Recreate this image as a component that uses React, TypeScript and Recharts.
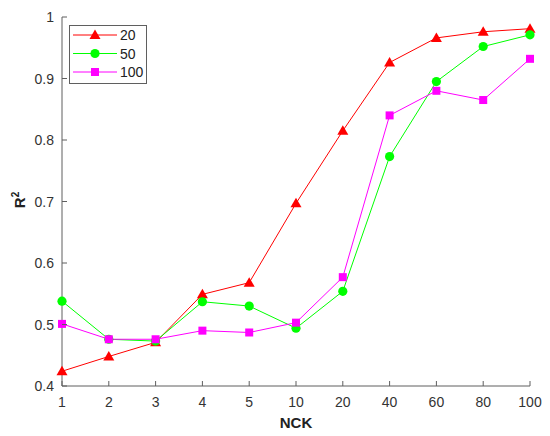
import { LineChart, Line, XAxis, YAxis } from "recharts";

// NCK settings on the x axis (evenly spaced categories)
const nck = ["1", "2", "3", "4", "5", "10", "20", "40", "60", "80", "100"];

// R^2 for each group size
const r2For20 = [0.424, 0.448, 0.471, 0.549, 0.568, 0.697, 0.815, 0.926, 0.966, 0.976, 0.981];
const r2For50 = [0.538, 0.476, 0.473, 0.537, 0.53, 0.494, 0.554, 0.773, 0.895, 0.952, 0.971];
const r2For100 = [0.501, 0.476, 0.476, 0.49, 0.487, 0.503, 0.577, 0.84, 0.88, 0.865, 0.932];

const yTicks = [0.4, 0.5, 0.6, 0.7, 0.8, 0.9, 1];

const seriesNames = ["20", "50", "100"];
const seriesColors = ["#FF0000", "#00FF00", "#FF00FF"];

const data = nck.map((k, i) => ({
  nck: k,
  s20: r2For20[i],
  s50: r2For50[i],
  s100: r2For100[i],
}));

const AXIS = "#5f5f5f";
const TEXT = "#333333";
const FONT = "Arial, 'Liberation Sans', sans-serif";
const TICK_LEN = 5;

// MATLAB-style markers
const Triangle = ({ cx, cy, color }: any) => (
  <polygon
    points={`${cx},${cy - 5.5} ${cx - 5.5},${cy + 4} ${cx + 5.5},${cy + 4}`}
    fill={color}
  />
);
const Circle = ({ cx, cy, color }: any) => <circle cx={cx} cy={cy} r={4.6} fill={color} />;
const Square = ({ cx, cy, color }: any) => (
  <rect x={cx - 4} y={cy - 4} width={8} height={8} fill={color} />
);
const markers = [Triangle, Circle, Square];

const dotFor = (i: number) => (props: any) => {
  const M = markers[i];
  if (props.cx == null || props.cy == null) return <g key={props.index} />;
  return <M key={props.index} cx={props.cx} cy={props.cy} color={seriesColors[i]} />;
};

// ticks point inward, labels outside
const BottomTick = ({ x, y, payload }: any) => (
  <g>
    <line x1={x} y1={y} x2={x} y2={y - TICK_LEN} stroke={AXIS} />
    <text x={x} y={y + 21} textAnchor="middle" fontSize={14} fill={TEXT} fontFamily={FONT}>
      {payload.value}
    </text>
  </g>
);
const TopTick = ({ x, y }: any) => (
  <line x1={x} y1={y} x2={x} y2={y + TICK_LEN} stroke={AXIS} />
);
const LeftTick = ({ x, y, payload }: any) => (
  <g>
    <line x1={x} y1={y} x2={x + TICK_LEN} y2={y} stroke={AXIS} />
    <text x={x - 8} y={y + 5} textAnchor="end" fontSize={14} fill={TEXT} fontFamily={FONT}>
      {payload.value}
    </text>
  </g>
);
const RightTick = ({ x, y }: any) => (
  <line x1={x} y1={y} x2={x - TICK_LEN} y2={y} stroke={AXIS} />
);

const LegendBox = () => (
  <svg
    width={78}
    height={59}
    style={{ position: "absolute", left: 69, top: 25, display: "block" }}
  >
    <rect x={0.5} y={0.5} width={77} height={58} fill="#fff" stroke={AXIS} />
    {seriesNames.map((name, i) => {
      const cy = 10 + i * 18.5;
      const M = markers[i];
      return (
        <g key={name}>
          <line x1={4} y1={cy} x2={48} y2={cy} stroke={seriesColors[i]} strokeWidth={1} />
          <M cx={26} cy={cy} color={seriesColors[i]} />
          <text x={51} y={cy + 5} fontSize={14} fill="#222" fontFamily={FONT}>
            {name}
          </text>
        </g>
      );
    })}
  </svg>
);

export default function App() {
  return (
    <div style={{ position: "absolute", left: 0, top: 0, width: 550, height: 436, background: "#fff" }}>
      <LineChart
        width={550}
        height={436}
        data={data}
        margin={{ top: 17, right: 20, bottom: 0, left: 0 }}
      >
        <XAxis
          dataKey="nck"
          xAxisId="bottom"
          height={50}
          axisLine={{ stroke: AXIS }}
          tickLine={false}
          tickSize={0}
          tickMargin={0}
          interval={0}
          tick={<BottomTick />}
          label={{
            content: () => (
              <text
                x={296}
                y={428}
                textAnchor="middle"
                fontSize={15}
                fontWeight="bold"
                fill="#222"
                fontFamily={FONT}
              >
                NCK
              </text>
            ),
          }}
        />
        <XAxis
          dataKey="nck"
          xAxisId="top"
          orientation="top"
          height={0}
          axisLine={{ stroke: AXIS }}
          tickLine={false}
          tickSize={0}
          tickMargin={0}
          interval={0}
          tick={<TopTick />}
        />
        <YAxis
          yAxisId="left"
          width={62}
          domain={[0.4, 1]}
          ticks={yTicks}
          axisLine={{ stroke: AXIS }}
          tickLine={false}
          tickSize={0}
          tickMargin={0}
          interval={0}
          tick={<LeftTick />}
          label={{
            content: () => (
              <text
                x={25}
                y={200}
                transform="rotate(-90 25 200)"
                textAnchor="middle"
                fontSize={15}
                fontWeight="bold"
                fill="#222"
                fontFamily={FONT}
              >
                R
                <tspan dy={-6} fontSize={10}>
                  2
                </tspan>
              </text>
            ),
          }}
        />
        <YAxis
          yAxisId="right"
          orientation="right"
          width={0}
          domain={[0.4, 1]}
          ticks={yTicks}
          axisLine={{ stroke: AXIS }}
          tickLine={false}
          tickSize={0}
          tickMargin={0}
          interval={0}
          tick={<RightTick />}
        />
        {["s20", "s50", "s100"].map((key, i) => (
          <Line
            key={key}
            xAxisId="bottom"
            yAxisId="left"
            type="linear"
            dataKey={key}
            name={seriesNames[i]}
            stroke={seriesColors[i]}
            strokeWidth={1}
            dot={dotFor(i)}
            activeDot={false}
            isAnimationActive={false}
          />
        ))}
      </LineChart>
      <LegendBox />
    </div>
  );
}
